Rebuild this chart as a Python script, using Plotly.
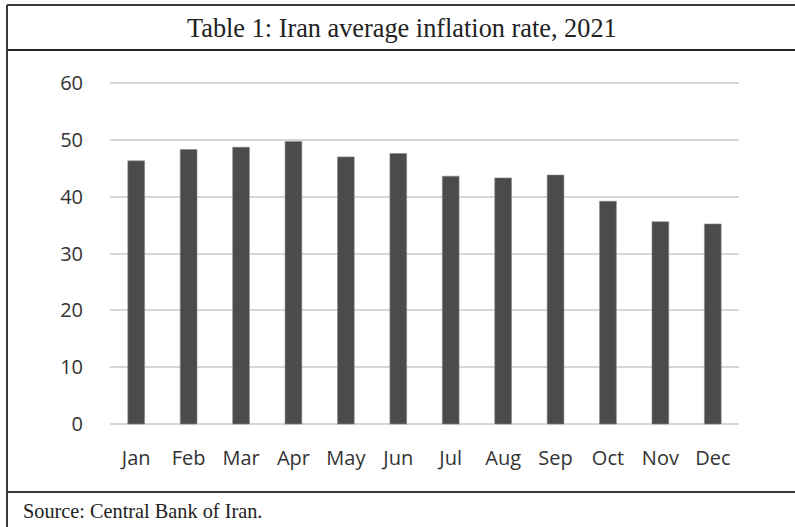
import plotly.graph_objects as go

months = ["Jan", "Feb", "Mar", "Apr", "May", "Jun", "Jul", "Aug", "Sep", "Oct", "Nov", "Dec"]
inflation = [46.3, 48.3, 48.7, 49.7, 47.0, 47.6, 43.6, 43.3, 43.8, 39.2, 35.6, 35.2]
y_ticks = [0, 10, 20, 30, 40, 50, 60]
title_text = "Table 1: Iran average inflation rate, 2021"
source_text = "Source: Central Bank of Iran."

W, H = 795, 527
L, R, T, B = 110, 739, 81, 426  # plot area pixel bounds (y range padded by 2px each side)


def px_x(px):
    return (px - L) / (R - L)


def px_y(py):
    return (B - py) / (B - T)


fig = go.Figure(
    go.Bar(
        x=months,
        y=inflation,
        marker=dict(color="#4b4b4b", line=dict(color="#8a8a8a", width=0.6)),
    )
)

line_style = dict(color="#3a3a3a", width=2)
shapes = [
    dict(type="line", xref="paper", yref="paper", x0=px_x(7), x1=px_x(800), y0=px_y(5), y1=px_y(5), line=line_style),
    dict(type="line", xref="paper", yref="paper", x0=px_x(7), x1=px_x(800), y0=px_y(50), y1=px_y(50), line=dict(color="#222", width=2.2)),
    dict(type="line", xref="paper", yref="paper", x0=px_x(7), x1=px_x(800), y0=px_y(492), y1=px_y(492), line=line_style),
    dict(type="line", xref="paper", yref="paper", x0=px_x(7), x1=px_x(7), y0=px_y(5), y1=px_y(530), line=line_style),
]

annotations = [
    dict(text=title_text, xref="paper", yref="paper", x=px_x(402), y=px_y(29), xanchor="center", yanchor="middle",
         showarrow=False, font=dict(family="Liberation Serif", size=26.3, color="#222")),
    dict(text=source_text, xref="paper", yref="paper", x=px_x(21), y=px_y(511), xanchor="left", yanchor="middle",
         showarrow=False, font=dict(family="Liberation Serif", size=20.3, color="#222")),
]

tick_font = dict(family="Open Sans", size=20, color="#333333")

fig.update_layout(
    width=W,
    height=H,
    margin=dict(l=L, r=W - R, t=T, b=H - B, pad=0),
    paper_bgcolor="white",
    plot_bgcolor="white",
    bargap=0.68,
    showlegend=False,
    shapes=shapes,
    annotations=annotations,
    xaxis=dict(showline=False, showgrid=False, ticks="", ticklabelstandoff=18, tickfont=tick_font),
    yaxis=dict(range=[-0.35, 60.35], tickvals=y_ticks, showgrid=True, gridcolor="#d6d6d6", gridwidth=1.6,
               zeroline=False, showline=False, ticks="",
               ticklabelstandoff=26, tickfont=tick_font),
)

fig.write_html("out.html")
